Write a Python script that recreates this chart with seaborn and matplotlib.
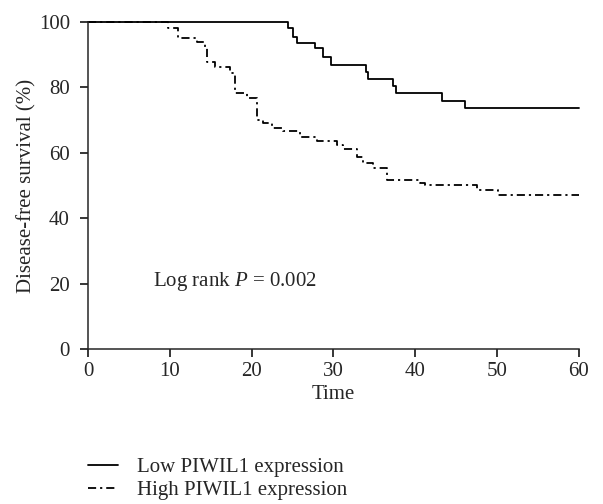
import pandas as pd
import matplotlib
matplotlib.use("Agg")
import matplotlib.pyplot as plt
import seaborn as sns
from matplotlib.lines import Line2D

# Kaplan-Meier step curves (time, survival %)
low_time = [0, 24.4, 25.1, 25.6, 27.7, 28.7, 29.7, 34.0, 34.2, 37.3, 37.6, 43.3, 46.1, 60]
low_surv = [100, 98.2, 95.4, 93.6, 92.0, 89.3, 86.9, 84.7, 82.6, 80.4, 78.3, 75.8, 73.7, 73.7]

high_time = [0, 9.8, 11.0, 13.3, 14.3, 14.5, 15.5, 17.4, 18.0, 19.4, 20.7, 21.4, 22.5, 23.8,
             25.9, 28.0, 30.4, 31.2, 32.9, 33.6, 34.8, 36.5, 40.6, 41.2, 47.5, 50.1, 60]
high_surv = [100, 98.2, 95.1, 93.9, 92.0, 87.8, 86.2, 84.4, 78.3, 76.8, 70.0, 69.1, 67.6, 66.7,
             64.8, 63.6, 62.4, 61.0, 58.7, 56.9, 55.4, 51.7, 50.8, 50.2, 48.6, 47.1, 47.1]

groups = ["Low PIWIL1 expression", "High PIWIL1 expression"]

df = pd.concat([
    pd.DataFrame({"Time": low_time, "Survival": low_surv, "Group": groups[0]}),
    pd.DataFrame({"Time": high_time, "Survival": high_surv, "Group": groups[1]}),
])

sns.set_style("ticks")
plt.rcParams["font.family"] = ["Liberation Serif", "DejaVu Serif"]
plt.rcParams["mathtext.fontset"] = "custom"
plt.rcParams["mathtext.it"] = "Liberation Serif:italic"
plt.rcParams["mathtext.rm"] = "Liberation Serif"

fs = 15
dash = (4.5, 2.2, 1.2, 2.2)

fig = plt.figure(figsize=(6.03, 5.04), dpi=100)
ax = fig.add_axes([0.146, 0.3075, 0.814, 0.649])

sns.lineplot(data=df, x="Time", y="Survival", style="Group", hue="Group",
             palette=["black", "black"], dashes={groups[0]: "", groups[1]: dash},
             drawstyle="steps-post", estimator=None, linewidth=1.3, ax=ax, legend=False)

ax.set_xlim(0, 60)
ax.set_ylim(0, 100)
ax.set_xticks(range(0, 61, 10))
ax.set_yticks(range(0, 101, 20))
ax.tick_params(labelsize=fs, length=6, width=1.1, color="black")
ax.tick_params(axis="y", pad=7)
ax.tick_params(axis="x", pad=3)
ax.set_xlabel("Time", fontsize=fs, labelpad=3)
ax.set_ylabel("Disease-free survival (%)", fontsize=fs, labelpad=2)
sns.despine(ax=ax)
for s in ax.spines.values():
    s.set_linewidth(1.1)
for ln in ax.lines:
    ln.set_clip_on(False)

ax.text(7.9, 20.5, "Log rank $P$ = 0.002", fontsize=fs, va="center")

handles = [Line2D([], [], color="black", lw=1.3),
           Line2D([], [], color="black", lw=1.3, dashes=dash)]
fig.legend(handles, groups, loc="upper left", bbox_to_anchor=(0.132, 0.108),
           frameon=False, fontsize=fs, handlelength=1.45, handletextpad=0.9,
           labelspacing=0.15, borderaxespad=0)

fig.savefig("out.png", dpi=100)
